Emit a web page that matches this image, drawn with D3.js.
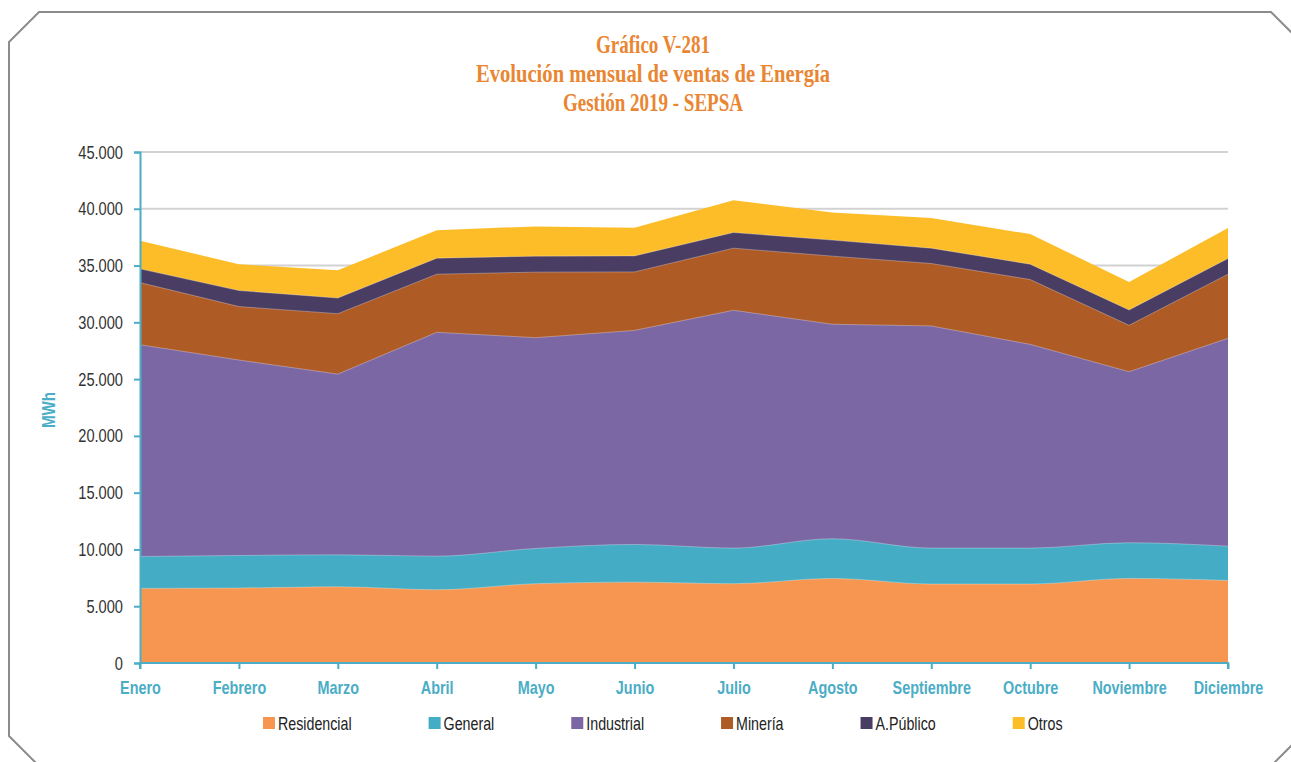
<!DOCTYPE html>
<html>
<head>
<meta charset="utf-8">
<script src="https://cdn.jsdelivr.net/npm/d3@7"></script>
<style>
  html, body { margin: 0; padding: 0; background: #fff; }
  svg { display: block; }
  .narrow { font-family: "Liberation Sans", "Arial", sans-serif; }
</style>
</head>
<body>
<svg id="chart" width="1291" height="762"></svg>
<script>
// Monthly energy sales by customer category, SEPSA 2019 (MWh)
const months = ["Enero", "Febrero", "Marzo", "Abril", "Mayo", "Junio", "Julio",
  "Agosto", "Septiembre", "Octubre", "Noviembre", "Diciembre"];
const seriesNames = ["Residencial", "General", "Industrial", "Minería", "A.Público", "Otros"];

const residencial = [6570, 6600, 6710, 6450, 6980, 7120, 6980, 7450, 6950, 6950, 7450, 7270];
const general     = [2810, 2870, 2820, 2960, 3110, 3320, 3140, 3490, 3170, 3170, 3140, 3020];
const industrial  = [18650, 17210, 15910, 19710, 18560, 18850, 20940, 18890, 19560, 17940, 15060, 18300];
const mineria     = [5470, 4710, 5320, 5120, 5770, 5150, 5470, 6000, 5500, 5710, 4090, 5650];
const aPublico    = [1210, 1410, 1380, 1410, 1410, 1410, 1380, 1410, 1350, 1350, 1350, 1380];
const otros       = [2470, 2320, 2440, 2470, 2620, 2470, 2850, 2440, 2650, 2650, 2470, 2680];

const yTicks = [0, 5000, 10000, 15000, 20000, 25000, 30000, 35000, 40000, 45000];

const colors = ["#F69650", "#44ACC4", "#7B67A4", "#AF5B25", "#4A3D63", "#FDBD29"];
const axisColor = "#4BADC6";
// horizontal condensing for the narrow label face
const squeezeY = 0.77, squeezeX = 0.8, squeezeLegend = 0.75;

const rows = months.map((m, i) => ({
  month: m,
  "Residencial": residencial[i],
  "General": general[i],
  "Industrial": industrial[i],
  "Minería": mineria[i],
  "A.Público": aPublico[i],
  "Otros": otros[i]
}));

const svg = d3.select("#chart");

// Outer frame with clipped corners
const fx0 = 9, fy0 = 12, fx1 = 1301, fy1 = 766, cut = 30;
svg.append("path")
  .attr("d", `M${fx0},${fy0 + cut} L${fx0 + cut},${fy0} L${fx1 - cut},${fy0} L${fx1},${fy0 + cut}
              L${fx1},${fy1 - cut} L${fx1 - cut},${fy1} L${fx0 + cut},${fy1} L${fx0},${fy1 - cut} Z`)
  .attr("fill", "none")
  .attr("stroke", "#8c8c8c")
  .attr("stroke-width", 2);

// Title
const titleLines = [
  { text: "Gráfico V-281", w: 114 },
  { text: "Evolución mensual de ventas de Energía", w: 354 },
  { text: "Gestión 2019 - SEPSA", w: 180 }
];
svg.append("g").selectAll("text").data(titleLines).join("text")
  .attr("x", d => 653 - d.w / 2)
  .attr("y", (d, i) => 53 + i * 29)
  .attr("textLength", d => d.w)
  .attr("lengthAdjust", "spacingAndGlyphs")
  .attr("font-family", "'Liberation Serif', 'DejaVu Serif', serif")
  .attr("font-weight", "bold")
  .attr("font-size", 26)
  .attr("fill", "#EA8531")
  .text(d => d.text);

// Scales
const x = d3.scalePoint().domain(months).range([140, 1228]);
const y = d3.scaleLinear().domain([0, 45000]).range([663, 152]);

const esLocale = d3.formatLocale({ decimal: ",", thousands: ".", grouping: [3], currency: ["", ""] });
const fmt = esLocale.format(",");

// Gridlines
svg.append("g").selectAll("line").data(yTicks.filter(t => t > 0)).join("line")
  .attr("x1", 140).attr("x2", 1228)
  .attr("y1", d => y(d)).attr("y2", d => y(d))
  .attr("stroke", "#d2d2d2").attr("stroke-width", 2);

// Stacked layers
const stack = d3.stack().keys(seriesNames);
const layers = stack(rows);

// Lower layers follow a smoothed edge, upper ones are straight segments
const curves = [d3.curveMonotoneX, d3.curveMonotoneX, d3.curveLinear, d3.curveLinear, d3.curveLinear, d3.curveLinear];

const gAreas = svg.append("g");
// Paint from the top layer down, each filled from zero to its cumulative top
for (let k = layers.length - 1; k >= 0; k--) {
  const area = d3.area()
    .x(d => x(d.data.month))
    .y0(y(0))
    .y1(d => y(d[1]))
    .curve(curves[k]);
  gAreas.append("path")
    .datum(layers[k])
    .attr("d", area)
    .attr("fill", colors[k]);
}
// Faint light seam along each boundary
for (let k = 0; k < layers.length - 1; k++) {
  const line = d3.line()
    .x(d => x(d.data.month))
    .y(d => y(d[1]))
    .curve(curves[k]);
  gAreas.append("path")
    .datum(layers[k])
    .attr("d", line)
    .attr("fill", "none")
    .attr("stroke", "#ffffff")
    .attr("stroke-opacity", 0.3)
    .attr("stroke-width", 1);
}

// Y axis
const yAxis = d3.axisLeft(y).tickValues(yTicks).tickFormat(d => d === 0 ? "0" : fmt(d)).tickSize(6).tickPadding(10);
const gy = svg.append("g").attr("transform", "translate(140,0)").call(yAxis);
gy.select(".domain").attr("stroke", axisColor).attr("stroke-width", 2);
gy.selectAll(".tick line").attr("stroke", axisColor).attr("stroke-width", 2);
gy.selectAll(".tick text")
  .attr("class", "narrow")
  .attr("font-family", null)
  .attr("font-size", 19)
  .attr("fill", "#333")
  .attr("x", -17 / squeezeY)
  .attr("transform", `scale(${squeezeY},1)`);

// X axis
const xAxis = d3.axisBottom(x).tickSize(6).tickPadding(12);
const gx = svg.append("g").attr("transform", "translate(0,663)").call(xAxis);
gx.select(".domain").attr("stroke", axisColor).attr("stroke-width", 2)
  .attr("d", "M140,6V0H1228V6");
gx.selectAll(".tick line").attr("stroke", axisColor).attr("stroke-width", 2);
gx.selectAll(".tick text")
  .attr("class", "narrow")
  .attr("font-family", null)
  .attr("font-size", 18)
  .attr("font-weight", "bold")
  .attr("fill", axisColor)
  .attr("transform", `scale(${squeezeX},1)`);

// Y axis title
svg.append("text")
  .attr("class", "narrow")
  .attr("transform", `translate(55,410) rotate(-90) scale(${squeezeX},1)`)
  .attr("text-anchor", "middle")
  .attr("font-size", 19)
  .attr("font-weight", "bold")
  .attr("fill", axisColor)
  .text("MWh");

// Legend
const legend = svg.append("g");
let lx = 263;
seriesNames.forEach((name, i) => {
  legend.append("rect")
    .attr("x", lx).attr("y", 717)
    .attr("width", 12).attr("height", 12)
    .attr("fill", colors[i]);
  const t = legend.append("text")
    .attr("class", "narrow")
    .attr("transform", `translate(${lx + 15},730) scale(${squeezeLegend},1)`)
    .attr("font-size", 19)
    .attr("fill", "#222")
    .text(name);
  lx += 15 + t.node().getComputedTextLength() * squeezeLegend + 77;
});
</script>
</body>
</html>
